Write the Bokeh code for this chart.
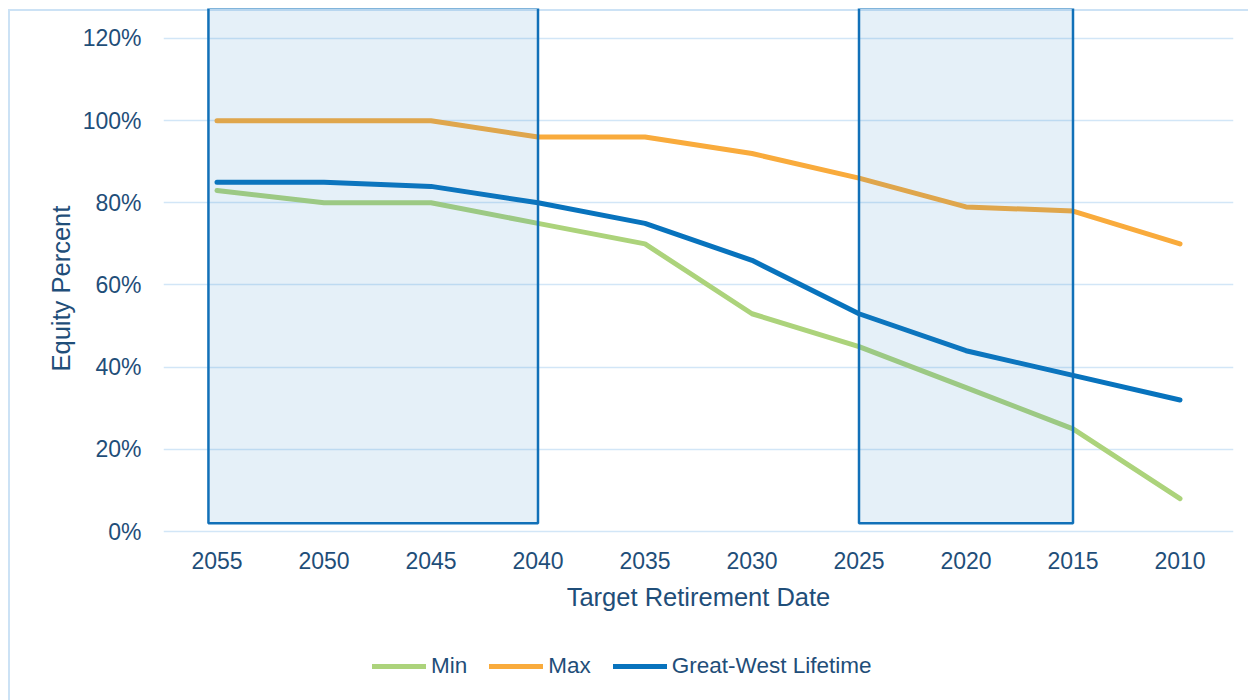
from bokeh.plotting import figure
from bokeh.models import (FactorRange, Range1d, FixedTicker, PrintfTickFormatter,
                          Legend, LegendItem, Title, ColumnDataSource)
from bokeh.transform import dodge
from bokeh.embed import file_html
from bokeh.resources import INLINE

# Target retirement dates (categories) and equity allocation in percent
dates = ["2055", "2050", "2045", "2040", "2035", "2030", "2025", "2020", "2015", "2010"]
min_equity = [83, 80, 80, 75, 70, 53, 45, 35, 25, 8]
max_equity = [100, 100, 100, 96, 96, 92, 86, 79, 78, 70]
great_west = [85, 85, 84, 80, 75, 66, 53, 44, 38, 32]
y_ticks = [0, 20, 40, 60, 80, 100, 120]

# Highlighted date windows
band_start = ["2055", "2025"]
band_end = ["2040", "2015"]
band_bottom = [2, 2]
band_top = [127.5, 127.5]

FONT = "Liberation Sans"
TEXT = "#1F4E79"
GRID = "#D2E6F7"
EDGE = "#CCE2F5"

# The frame runs down to the legend; the date axis sits at 0 %
p = figure(width=1248, height=700, x_range=FactorRange(*dates, range_padding=0),
           y_range=Range1d(-38.7, 127.3), output_backend="svg", toolbar_location=None,
           min_border_left=163, min_border_right=15, min_border_top=8, min_border_bottom=10)
p.outline_line_color = None
# transparent canvas so the chart-area edge (host box-shadow) shows through
p.background_fill_color = None
p.border_fill_color = None
p.styles = {"background-color": "white",
            "box-shadow": f"inset 8px 9px 0 0 white, inset 10px 11px 0 0 {EDGE}"}

p.xgrid.grid_line_color = None
p.ygrid.grid_line_color = GRID
p.ygrid.grid_line_width = 1.6
p.yaxis.ticker = FixedTicker(ticks=y_ticks)
p.yaxis.formatter = PrintfTickFormatter(format="%d%%")
p.xaxis.fixed_location = 0

for ax in (p.xaxis[0], p.yaxis[0]):
    ax.axis_line_color = None
    ax.major_tick_line_color = None
    ax.minor_tick_line_color = None
    ax.major_tick_out = 0
    ax.major_tick_in = 0
    ax.major_label_text_font = FONT
    ax.major_label_text_color = TEXT
    ax.major_label_text_font_size = "23px"
    ax.axis_label_text_font = FONT
    ax.axis_label_text_color = TEXT
    ax.axis_label_text_font_style = "normal"
    ax.axis_label_text_font_size = "25.5px"

p.yaxis.major_label_standoff = 22
p.xaxis.major_label_standoff = 20
p.xaxis.axis_label = "Target Retirement Date"
p.xaxis.axis_label_standoff = 11

ytitle = Title(text="Equity Percent", align="left", offset=319,
               text_font=FONT, text_color=TEXT, text_font_size="25.5px",
               text_font_style="normal")
p.add_layout(ytitle, "left")

r_min = p.line(dates, min_equity, line_color="#ACD37B", line_width=5,
               line_cap="round", line_join="round")
r_max = p.line(dates, max_equity, line_color="#F9AB3C", line_width=5,
               line_cap="round", line_join="round")
r_gw = p.line(dates, great_west, line_color="#0873BD", line_width=5,
              line_cap="round", line_join="round")

# Shaded windows drawn over the lines; the first one starts a little before its date
for i, shift in enumerate([-0.08, 0.0]):
    src = ColumnDataSource(dict(start=[band_start[i]], end=[band_end[i]],
                                bottom=[band_bottom[i]], top=[band_top[i]]))
    p.quad(left=dodge("start", shift, range=p.x_range), right="end",
           bottom="bottom", top="top", source=src,
           fill_color="#2A84C6", fill_alpha=0.12,
           line_color="#1170B8", line_width=2.5)

legend = Legend(items=[LegendItem(label="Min", renderers=[r_min]),
                       LegendItem(label="Max", renderers=[r_max]),
                       LegendItem(label="Great-West Lifetime", renderers=[r_gw])],
                orientation="horizontal", location=(209, 11),
                glyph_width=54, glyph_height=20, label_standoff=5, spacing=22,
                padding=0, margin=0, border_line_color=None,
                background_fill_alpha=0,
                label_text_font=FONT, label_text_color=TEXT,
                label_text_font_size="22.5px")
p.add_layout(legend, "center")

open("out.html", "w").write(file_html(p, INLINE))
